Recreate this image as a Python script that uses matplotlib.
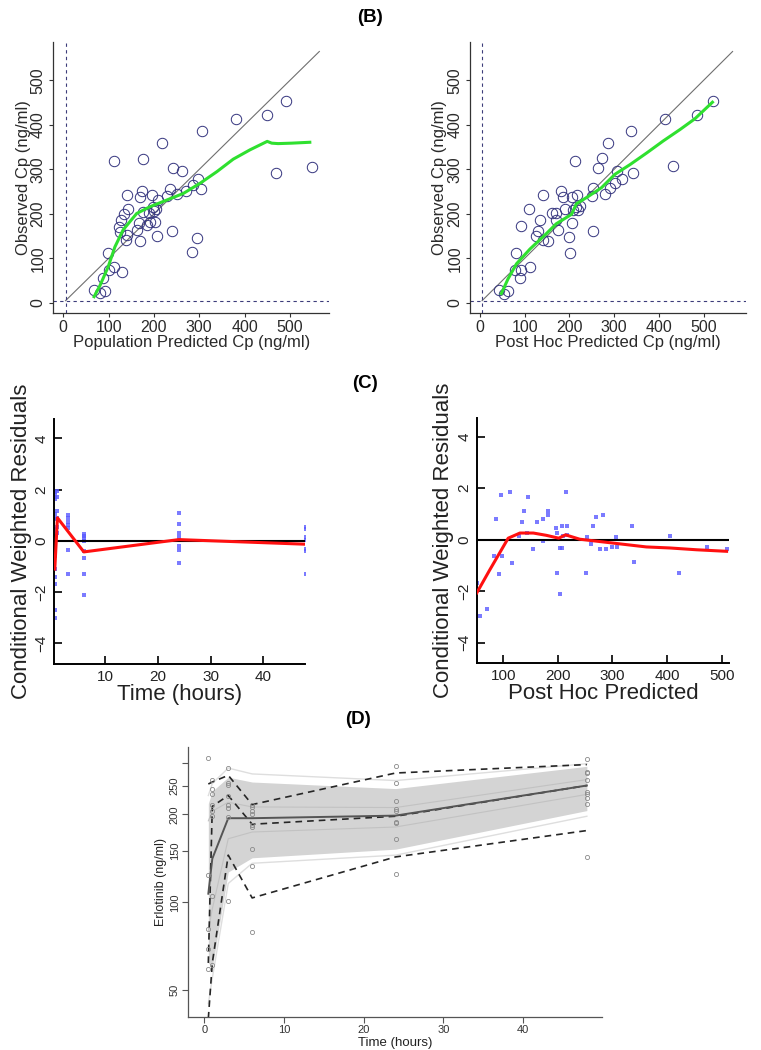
import numpy as np
import matplotlib
matplotlib.use('Agg')
import matplotlib.pyplot as plt
from matplotlib.ticker import NullFormatter, NullLocator

plt.rcParams['font.family'] = ['Liberation Sans', 'DejaVu Sans']

# ---- (B) observed vs population / post hoc predicted ----
pop_pred = [68, 81, 91, 88, 98, 102, 111, 130, 113, 176, 218, 307, 382, 450, 491, 470, 548,
            242, 263, 297, 304, 287, 271, 252, 235, 228, 241, 285, 294, 206, 169, 138, 140,
            142, 133, 127, 122, 125, 140, 162, 169, 173, 177, 166, 195, 191, 202, 199, 200,
            205, 210, 190, 184]
pop_obs = [28, 22, 27, 56, 112, 75, 81, 70, 318, 324, 360, 386, 414, 423, 454, 293, 306,
           303, 297, 278, 257, 266, 251, 244, 257, 240, 162, 114, 146, 150, 139, 142, 242,
           212, 199, 186, 171, 160, 152, 163, 238, 251, 204, 180, 242, 182, 182, 216, 207,
           212, 231, 201, 175]
pop_smooth_x = [68, 81, 99, 114, 132, 162, 191, 228, 265, 302, 339, 375, 412, 450, 460, 474, 504, 544]
pop_smooth_y = [14, 39, 81, 126, 164, 201, 216, 231, 246, 269, 295, 323, 344, 363, 359, 358, 359, 361]

ph_pred = [42.5, 54, 63, 89.5, 78, 93, 113, 81, 91, 110, 134, 129, 125, 142, 153, 142,
           162, 171, 175, 170, 181, 185, 190, 199, 201, 205, 209, 207, 216, 213, 218, 253,
           251, 253, 265, 272, 286, 280, 291, 302, 307, 317, 339, 343, 414, 431, 485, 522,
           220, 224]
ph_obs = [28, 21, 27, 56, 75, 75, 81, 112, 173, 212, 186, 161, 150, 142, 139, 242,
          203, 186, 163, 201, 251, 239, 210, 148, 113, 239, 209, 180, 216, 318, 243, 258,
          240, 162, 303, 326, 360, 244, 258, 270, 297, 278, 386, 293, 414, 307, 423, 454,
          209, 218]
ph_smooth_x = [48, 63, 82, 112, 149, 171, 205, 216, 239, 272, 302, 336, 373, 410, 448, 481, 520]
ph_smooth_y = [21, 54, 88, 121, 156, 178, 199, 223, 237, 259, 289, 311, 337, 364, 390, 414, 451]

b_ticks = [0, 100, 200, 300, 400, 500]

# ---- (C) CWRES ----
cw_time = [0.5] * 14 + [1] * 6 + [3] * 7 + [6] * 8 + [24] * 7 + [48] * 7
cw_time_res = [1.9, 1.8, 1.65, 1.05, 0.85, 0.45, 0.2, -0.35, -0.6, -1.1, -1.4, -1.7, -2.7, -3.0,
               1.95, 1.7, 1.15, 0.9, 0.55, 0.3,
               1.0, 0.9, 0.75, 0.6, 0.5, -0.35, -1.3,
               0.25, 0.2, 0.1, 0.0, -0.4, -0.65, -1.3, -2.1,
               1.1, 0.65, 0.3, 0.15, -0.2, -0.35, -0.85,
               0.55, 0.45, 0.15, 0.05, -0.3, -0.4, -1.3]
cw_time_smooth_x = [0.5, 1, 6, 24, 48]
cw_time_smooth_y = [-1.1, 0.9, -0.43, 0.05, -0.13]

cw_pred = [57, 70, 52, 83.5, 97, 93, 87, 95, 112, 116.5, 135, 138, 146, 143, 129, 154,
           161, 173, 173, 182, 182, 196, 198, 199, 204, 203, 207, 209, 214, 216, 217, 207,
           253, 251, 260, 264, 270, 277, 283, 289, 300, 306, 309, 335, 339, 405, 422, 474, 509]
cw_pred_res = [-2.95, -2.71, -1.68, -0.65, -0.65, -1.33, 0.81, 1.72, 1.85, -0.9, 0.67, 1.1, 1.65,
               0.26, 0.13, -0.36, 0.67, 0.81, -0.03, 1.1, 0.97, 0.45, 0.26, -1.28, -0.32, -2.09,
               0.52, 0.13, 1.86, 0.54, 0.2, -0.32, 0.1, -1.28, -0.15, 0.54, 0.89, -0.36, 0.96,
               -0.36, -0.3, 0.1, -0.3, 0.54, -0.85, 0.13, -1.28, -0.3, -0.36]
cw_pred_smooth_x = [51.3, 75, 109, 130.5, 155, 179, 201.6, 214, 240, 301, 362, 405, 454, 509]
cw_pred_smooth_y = [-2.07, -1.18, 0.06, 0.26, 0.26, 0.17, 0.06, 0.19, 0.02, -0.13, -0.28, -0.32, -0.39, -0.45]

# ---- (D) VPC ----
vpc_obs_t = [0.5] * 5 + [1] * 8 + [3] * 8 + [6] * 9 + [24] * 9 + [48] * 9
vpc_obs_c = [311, 124, 81, 69, 59,
             263, 245, 235, 215, 206, 198, 105, 61,
             288, 256, 253, 232, 216, 211, 196, 101,
             216, 212, 206, 201, 184, 181, 152, 133, 79,
             293, 257, 222, 208, 205, 189, 187, 165, 125,
             310, 280, 278, 263, 238, 235, 227, 217, 143]
vpc_t = [0.5, 1, 3, 6, 24, 48]
band_hi = [218, 240, 268, 258, 245, 292]
band_lo = [62, 60, 127, 142, 152, 206]
inner_hi = [190, 205, 220, 212, 211, 263]
inner_lo = [80, 95, 165, 174, 181, 234]
outer_hi = [232, 255, 288, 275, 261, 298]
outer_lo = [45, 55, 116, 136, 145, 197]
obs_p95 = [254, 258, 272, 216, 277, 296]
obs_p50d = [62, 213, 232, 185, 197, 251]
obs_p05 = [40, 62, 145, 103.5, 143, 176]
obs_median = [107, 141, 194, 194, 198, 251]
d_yticks = [50, 100, 150, 200, 250, 300]
d_ylabels = ['50', '100', '150', '200', '250', '']

W, H = 761, 1050
fig = plt.figure(figsize=(W / 100, H / 100), dpi=100)


def box(l, t, r, b):
    return [l / W, 1 - b / H, (r - l) / W, (b - t) / H]


def b_panel(rect, px, py, sx, sy, xlab, xlim):
    ax = fig.add_axes(rect)
    ax.plot([5, 565], [5, 565], color='#6f6f6f', lw=0.8)
    ax.axvline(5, color='#3c3c7a', lw=0.8, ls=(0, (3, 3)))
    ax.axhline(5, color='#3c3c7a', lw=0.8, ls=(0, (3, 3)))
    ax.plot(px, py, 'o', ms=7.5, mfc='none', mec='#34347e', mew=0.7)
    ax.plot(sx, sy, color='#2fe02f', lw=2.2)
    ax.set_xlim(*xlim)
    ax.set_ylim(-22, 587)
    ax.set_xticks(b_ticks)
    ax.set_yticks(b_ticks)
    ax.set_yticklabels([str(v) for v in b_ticks], rotation=90, va='center')
    for s in ['top', 'right']:
        ax.spines[s].set_visible(False)
    for s in ['left', 'bottom']:
        ax.spines[s].set_color('#333333')
        ax.spines[s].set_linewidth(0.9)
    ax.tick_params(length=3, width=0.8, color='#333333', labelsize=11.5,
                   labelcolor='#2a2a2a', pad=2.5)
    ax.set_xlabel(xlab, fontsize=12, color='#2a2a2a', labelpad=0)
    ax.set_ylabel('Observed Cp (ng/ml)', fontsize=12, color='#2a2a2a', labelpad=0)
    return ax


b_panel(box(53.3, 41.7, 329.3, 312.7), pop_pred, pop_obs, pop_smooth_x, pop_smooth_y,
        'Population Predicted Cp (ng/ml)', (-22, 587))
b_panel(box(470, 41.7, 746, 312.7), ph_pred, ph_obs, ph_smooth_x, ph_smooth_y,
        'Post Hoc Predicted Cp (ng/ml)', (-22, 595))


def c_panel(rect, px, py, sx, sy, xlab, xlim, xticks):
    ax = fig.add_axes(rect)
    ax.scatter(px, py, marker='s', s=5, color='#5a5aff', alpha=0.8, linewidths=0, zorder=2)
    ax.axhline(0, color='black', lw=1.5, zorder=3)
    ax.plot(sx, sy, color='#ff1010', lw=2.2, zorder=4)
    ax.set_xlim(*xlim)
    ax.set_ylim(-4.8, 4.74)
    ax.set_xticks(xticks)
    ax.set_yticks([-4, -2, 0, 2, 4])
    ax.set_yticklabels(['\u22124', '\u22122', '0', '2', '4'], rotation=90, va='center')
    for s in ['top', 'right']:
        ax.spines[s].set_visible(False)
    for s in ['left', 'bottom']:
        ax.spines[s].set_linewidth(1.4)
    ax.tick_params(direction='in', length=6, width=1.2, labelsize=11, labelcolor='#222222', pad=4)
    ax.set_xlabel(xlab, fontsize=16, color='#222222', labelpad=0)
    ax.set_ylabel('Conditional Weighted Residuals', fontsize=16, color='#222222', labelpad=2)
    return ax


c_panel(box(54, 419.3, 305, 664), cw_time, cw_time_res, cw_time_smooth_x, cw_time_smooth_y,
        'Time (hours)', (0.35, 47.9), [10, 20, 30, 40])
c_panel(box(476.7, 417.7, 729, 663.3), cw_pred, cw_pred_res, cw_pred_smooth_x, cw_pred_smooth_y,
        'Post Hoc Predicted', (51.3, 513.4), [100, 200, 300, 400, 500])

# ---- (D) ----
ax = fig.add_axes(box(188, 747, 602, 1017))
ax.fill_between(vpc_t, band_lo, band_hi, color='#d4d4d4', lw=0, zorder=1)
for arr in (inner_hi, inner_lo):
    ax.plot(vpc_t, arr, color='#c2c2c2', lw=0.8, zorder=2)
for arr in (outer_hi, outer_lo):
    ax.plot(vpc_t, arr, color='#dedede', lw=1.0, zorder=2)
for arr in (obs_p95, obs_p50d, obs_p05):
    ax.plot(vpc_t, arr, color='#262626', lw=1.2, ls=(0, (4, 3)), zorder=4)
ax.plot(vpc_t, obs_median, color='#555555', lw=1.4, zorder=4)
ax.plot(vpc_obs_t, vpc_obs_c, 'o', ms=3, mfc='none', mec='#8a8a8a', mew=0.6, zorder=5)
ax.set_yscale('log')
ax.set_xlim(-2.05, 49.9)
ax.set_ylim(40.5, 340)
ax.set_xticks([0, 10, 20, 30, 40])
ax.set_yticks(d_yticks)
ax.set_yticklabels(d_ylabels, rotation=90, va='center')
ax.yaxis.set_minor_locator(NullLocator())
ax.yaxis.set_minor_formatter(NullFormatter())
for s in ['top', 'right']:
    ax.spines[s].set_visible(False)
for s in ['left', 'bottom']:
    ax.spines[s].set_color('#555555')
    ax.spines[s].set_linewidth(0.9)
ax.tick_params(direction='out', length=4, width=0.8, color='#555555', labelsize=8,
               labelcolor='#333333', pad=2)
ax.set_xlabel('Time (hours)', fontsize=9.5, color='#222222', labelpad=1)
ax.set_ylabel('Erlotinib (ng/ml)', fontsize=9, color='#222222', labelpad=2)

# panel letters
fig.text(370 / W, 1 - 17 / H, '(B)', ha='center', va='center', fontsize=13.5, fontweight='bold')
fig.text(365 / W, 1 - 383 / H, '(C)', ha='center', va='center', fontsize=13.5, fontweight='bold')
fig.text(358 / W, 1 - 720 / H, '(D)', ha='center', va='center', fontsize=13.5, fontweight='bold')

fig.savefig('out.png', dpi=100)
